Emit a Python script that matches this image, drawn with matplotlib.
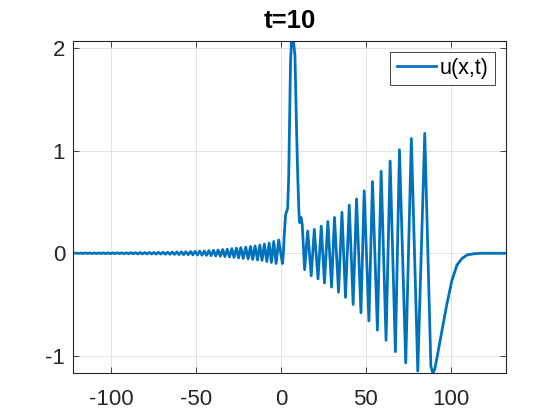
import numpy as np
import matplotlib.pyplot as plt

plt.rcParams['font.family'] = ['Liberation Sans', 'DejaVu Sans']
plt.rcParams['axes.unicode_minus'] = False

# small ripples left of the spike (crests and troughs)
ripple_peak_x = [-120.8, -118.1, -115.4, -112.7, -110.0, -107.3, -104.6, -101.9, -99.2, -96.5,
                 -93.8, -91.1, -88.4, -85.7, -83.0, -80.3, -77.6, -74.9, -72.2, -69.5,
                 -66.8, -64.1, -61.4, -58.7, -56.0, -53.3, -50.6, -47.9, -45.2, -42.5,
                 -39.8, -37.1, -34.4, -31.7, -29.0, -26.3, -23.7, -20.8, -18.0, -15.3,
                 -12.5, -9.8, -7.0, -4.3, -1.4]
ripple_peak_u = [0.002, 0.002, 0.003, 0.003, 0.003, 0.003, 0.004, 0.004, 0.004, 0.005,
                 0.005, 0.005, 0.006, 0.006, 0.007, 0.007, 0.008, 0.008, 0.009, 0.010,
                 0.011, 0.012, 0.013, 0.014, 0.015, 0.017, 0.019, 0.021, 0.023, 0.026,
                 0.029, 0.032, 0.036, 0.040, 0.045, 0.050, 0.055, 0.060, 0.066, 0.072,
                 0.080, 0.090, 0.100, 0.115, 0.130]
ripple_trough_x = [-119.5, -116.8, -114.1, -111.4, -108.7, -106.0, -103.3, -100.6, -97.9, -95.2,
                   -92.5, -89.8, -87.1, -84.4, -81.7, -79.0, -76.3, -73.6, -70.9, -68.2,
                   -65.5, -62.8, -60.1, -57.4, -54.7, -52.0, -49.3, -46.6, -43.9, -41.2,
                   -38.5, -35.8, -33.1, -30.4, -27.7, -25.0, -22.3, -19.4, -16.7, -13.9,
                   -11.2, -8.4, -5.7, -2.9, 0.8]
ripple_trough_u = [-0.002, -0.002, -0.002, -0.003, -0.003, -0.003, -0.003, -0.004, -0.004, -0.004,
                   -0.005, -0.005, -0.005, -0.006, -0.006, -0.007, -0.007, -0.008, -0.008, -0.009,
                   -0.010, -0.011, -0.012, -0.013, -0.014, -0.015, -0.017, -0.019, -0.021, -0.023,
                   -0.026, -0.029, -0.032, -0.036, -0.040, -0.045, -0.050, -0.055, -0.060, -0.065,
                   -0.070, -0.080, -0.090, -0.100, -0.100]

# the tall soliton-like spike
spike_x = [1.3, 1.9, 2.7, 3.4, 3.9, 4.5, 5.1, 5.6, 6.2, 6.8, 7.4, 8.2, 9.0, 9.8, 10.6, 11.0, 11.8, 12.5]
spike_u = [-0.02, 0.18, 0.38, 0.41, 0.44, 0.73, 1.32, 1.87, 2.074, 2.04, 2.06, 1.93, 1.32, 0.77,
           0.38, 0.30, 0.35, 0.28]

# growing oscillations right of the spike
wave_peak_x = [15.7, 19.6, 23.7, 27.6, 31.5, 35.9, 40.2, 44.5, 49.0, 53.9, 59.0, 64.3, 69.8, 76.8, 84.7]
wave_peak_u = [0.217, 0.233, 0.265, 0.31, 0.35, 0.40, 0.47, 0.53, 0.61, 0.70, 0.80, 0.90, 1.01, 1.12, 1.17]
wave_trough_x = [13.9, 17.8, 21.8, 25.6, 29.8, 33.9, 38.0, 42.5, 47.1, 51.8, 56.8, 61.9, 67.4, 73.5,
                 80.6, 88.3, 89.5]
wave_trough_u = [-0.16, -0.22, -0.25, -0.29, -0.33, -0.38, -0.43, -0.50, -0.58, -0.66, -0.75, -0.85,
                 -0.96, -1.07, -1.15, -1.10, -1.172]

# recovery back to zero
tail_x = [-122.4, 90.6, 91.9, 94.9, 97.8, 100.8, 103.7, 106.7, 109.6, 113.5, 117.5, 132.6]
tail_u = [0.0, -1.13, -1.02, -0.75, -0.49, -0.26, -0.115, -0.05, -0.017, -0.005, 0.0, 0.0]

x = np.concatenate([ripple_peak_x, ripple_trough_x, spike_x, wave_peak_x, wave_trough_x, tail_x])
u = np.concatenate([ripple_peak_u, ripple_trough_u, spike_u, wave_peak_u, wave_trough_u, tail_u])
order = np.argsort(x)
x, u = x[order], u[order]

fig = plt.figure(figsize=(5.6, 4.2), dpi=100)
ax = fig.add_axes([0.131, 0.111, 0.7726, 0.792])
ax.plot(x, u, color='#0072BD', lw=2, label='u(x,t)')

ax.set_xlim(-122.4, 132.6)
ax.set_ylim(-1.172, 2.074)
ax.set_xticks([-100, -50, 0, 50, 100])
ax.set_yticks([-1, 0, 1, 2])
ax.grid(True, color='#dedede', lw=0.6)
ax.set_axisbelow(True)
ax.tick_params(direction='in', top=True, right=True, labelsize=16, colors='#262626',
               length=4, width=0.6)
ax.tick_params(axis='x', pad=11)
ax.tick_params(axis='y', pad=6)
for s in ax.spines.values():
    s.set_color('#262626')
    s.set_linewidth(0.8)

ax.set_title('t=10', fontsize=18.5, fontweight='bold', pad=9)
leg = ax.legend(loc='upper right', fontsize=15.5, fancybox=False, framealpha=1,
                edgecolor='#262626', handlelength=1.8, handletextpad=0.2,
                borderpad=0.3, borderaxespad=0.5)
leg.get_frame().set_linewidth(0.6)

fig.savefig('out.png', dpi=100)
